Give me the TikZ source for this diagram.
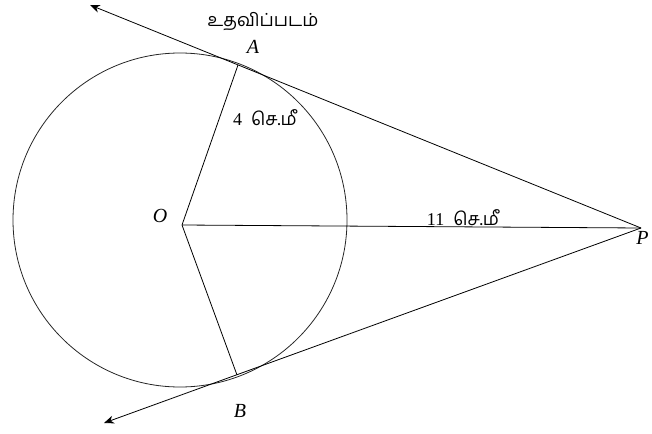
\documentclass[tikz,border=0pt]{standalone}
\usepackage{fontspec}
\setmainfont{Liberation Serif}
\newfontfamily\tamilfont[Script=Tamil]{Hind Madurai}
\usetikzlibrary{arrows.meta}

\begin{document}
\begin{tikzpicture}[x=0.5pt, y=-0.5pt, font=\small,
  tangent/.style={-{Stealth[length=5pt,width=4pt]}},
  ptlbl/.style={font=\itshape, inner sep=1pt},
  len/.style={font=\small, inner sep=1pt},
]
\useasboundingbox (0,0) rectangle (652,433);
\coordinate (C) at (180,220);
\coordinate (O) at (182,225);
\coordinate (A) at (238,65);
\coordinate (B) at (237,375);
\coordinate (P) at (641,228);
\coordinate (endA) at (90,5);
\coordinate (endB) at (104,423);
\draw[black!85] (C) circle[radius=83.5pt];
\draw[tangent] (P) -- (endA);
\draw[tangent] (P) -- (endB);
\draw (O) -- (A);
\draw (O) -- (B);
\draw (O) -- (P);
\node[font=\small\tamilfont] (title) at (263,22) {உதவிப்படம்};
\node[ptlbl] (lblA) at (253,47) {A};
\node[ptlbl] (lblB) at (240,411) {B};
\node[ptlbl] (lblO) at (160,216) {O};
\node[ptlbl, anchor=east] (lblP) at (651,238) {P};
\node[len] (rad) at (265,118) {4\ \ {\tamilfont செ.மீ}};
\node[len] (dist) at (463,218) {11\ \ {\tamilfont செ.மீ}};
\end{tikzpicture}
\end{document}
